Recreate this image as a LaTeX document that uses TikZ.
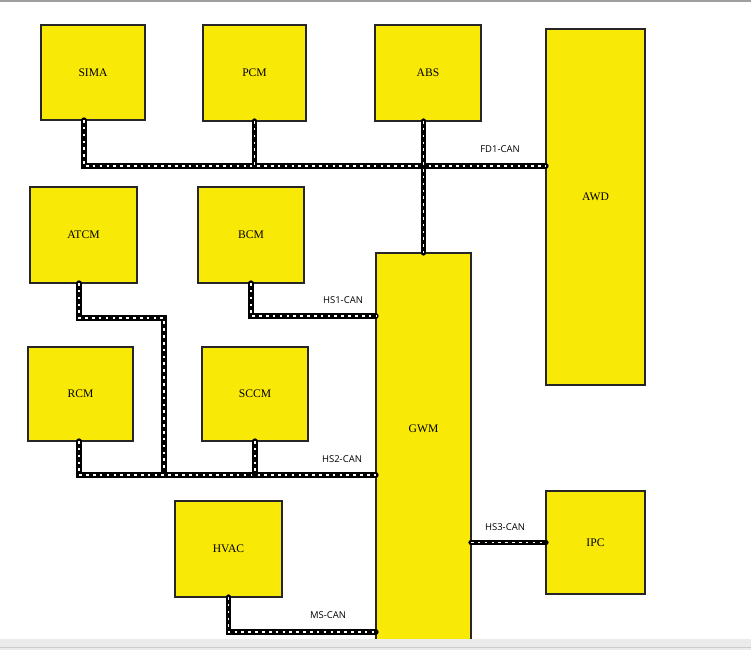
\documentclass[tikz,border=0pt]{standalone}
\usepackage{fontspec}
\setmainfont{Liberation Serif}
\newfontfamily\busfont{Open Sans}
\usepackage{tikz}
\usetikzlibrary{calc}
\definecolor{ecuyellow}{HTML}{F8EA06}
\newcommand{\pxu}{0.02cm}
\tikzset{
 ecu/.style={draw=black!85, line width=0.6pt, fill=ecuyellow, inner sep=0, outer sep=0,
   font=\fontsize{6.6}{7}\selectfont},
 can/.style={line width=3pt, draw=black, line cap=round,
   postaction={draw=white, line width=1.05pt, line cap=butt, dash pattern=on 1.5pt off 2.4pt}},
 buslbl/.style={font=\busfont\fontsize{5.4}{6}\selectfont, inner sep=0}
}

\begin{document}
\begin{tikzpicture}[x=0.02cm, y=-0.02cm]
\useasboundingbox (0,0) rectangle (751,650);
% the modules
\node[ecu, minimum width=104*\pxu, minimum height=95*\pxu] (sima) at (93,72.5) {SIMA};
\node[ecu, minimum width=103*\pxu, minimum height=96*\pxu] (pcm) at (254.5,73) {PCM};
\node[ecu, minimum width=106*\pxu, minimum height=96*\pxu] (abs) at (428,73) {ABS};
\node[ecu, minimum width=99*\pxu, minimum height=356*\pxu,
  label={[font=\fontsize{6.6}{7}\selectfont, yshift=10*\pxu]center:AWD}] (awd) at (595.5,207) {};
\node[ecu, minimum width=107*\pxu, minimum height=96*\pxu] (atcm) at (83.5,235) {ATCM};
\node[ecu, minimum width=106*\pxu, minimum height=96*\pxu] (bcm) at (251,235) {BCM};
\node[ecu, minimum width=105*\pxu, minimum height=94*\pxu] (rcm) at (80.5,394) {RCM};
\node[ecu, minimum width=106*\pxu, minimum height=94*\pxu] (sccm) at (255,394) {SCCM};
\node[ecu, minimum width=107*\pxu, minimum height=96*\pxu] (hvac) at (228.5,549) {HVAC};
\node[ecu, minimum width=99*\pxu, minimum height=103*\pxu] (ipc) at (595.5,542.5) {IPC};
\node[ecu, minimum width=95*\pxu, minimum height=394*\pxu,
  label={[font=\fontsize{6.6}{7}\selectfont, yshift=21*\pxu]center:GWM}] (gwm) at (423.5,450) {};

% FD1
\coordinate (fd1) at (84,166);
\draw[can] ($(sima.south)+(-9,0)$) -- (fd1) -- (fd1 -| awd.west);
\draw[can] (pcm.south) -- (pcm.south |- fd1);
\draw[can] (abs.south -| gwm.north) -- (gwm.north);
% HS1
\coordinate (hs1) at (250,316);
\draw[can] (bcm.south) -- (bcm.south |- hs1) -- (hs1 -| gwm.west);
% HS2
\coordinate (hs2) at (79,475);
\coordinate (hs2a) at (164,318);
\draw[can] ($(atcm.south)+(-4.5,0)$) |- (hs2a) -- (hs2a |- hs2);
\draw[can] ($(rcm.south)+(-1.5,0)$) -- (hs2) -- (hs2 -| gwm.west);
\draw[can] (sccm.south) -- (sccm.south |- hs2);
% HS3
\draw[can] (gwm.east |- ipc.west) -- (ipc.west);
% MS
\coordinate (ms) at (229,632);
\draw[can] (hvac.south) -- (hvac.south |- ms) -- (ms -| gwm.west);

% bus names
\node[buslbl] (fd1lbl) at (500,149) {FD1-CAN};
\node[buslbl] (hs1lbl) at (343,300) {HS1-CAN};
\node[buslbl] (hs2lbl) at (342,459) {HS2-CAN};
\node[buslbl] (hs3lbl) at (505,527) {HS3-CAN};
\node[buslbl] (mslbl) at (328,615) {MS-CAN};

% window edges
\fill[black!8] (0,639) rectangle (751,650);
\draw[black!20, line width=0.4pt] (0,647.5) -- (751,647.5);
\draw[black!38, line width=1.2pt] (0,1) -- (751,1);
\end{tikzpicture}
\end{document}
